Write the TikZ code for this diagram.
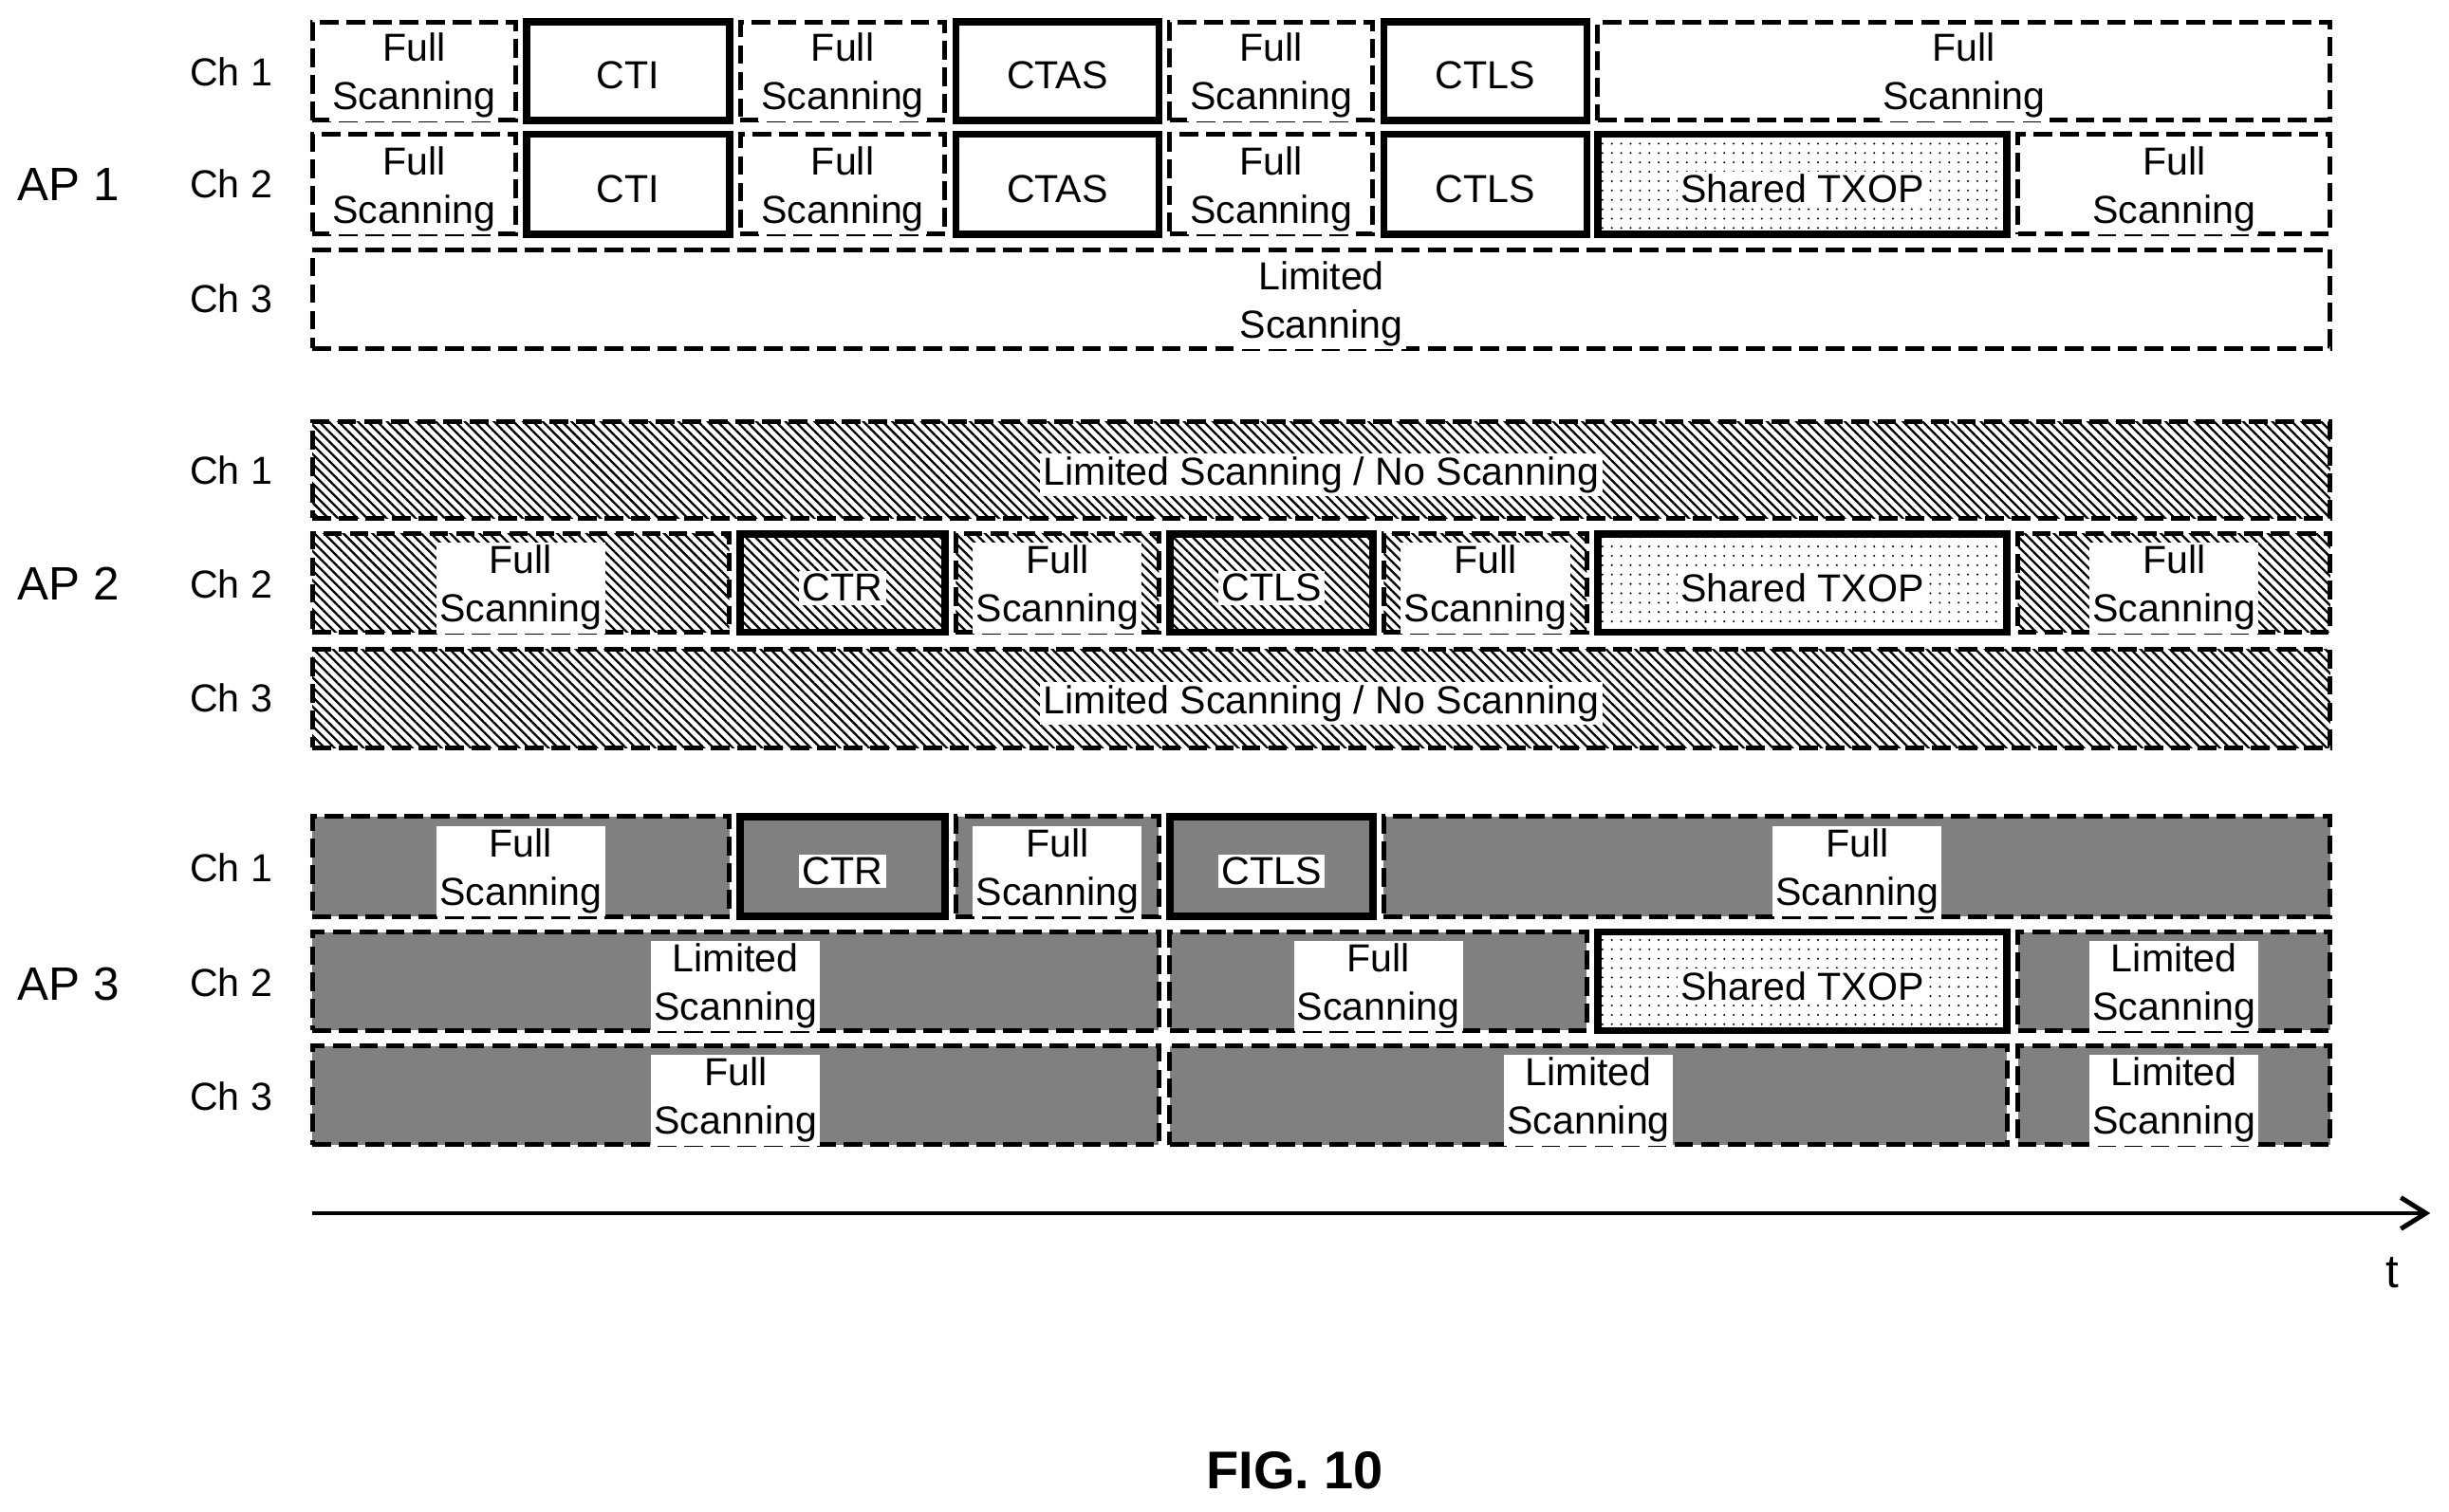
\documentclass[tikz,border=0pt]{standalone}
\usepackage{fontspec}
\setmainfont{Liberation Sans}
\usetikzlibrary{patterns.meta,arrows.meta}
\begin{document}
\begin{tikzpicture}[x=0.5pt,y=-0.5pt,
  font=\fontsize{12.5}{15.5}\selectfont,
  dsh/.style={draw,line width=1.5pt,dash pattern=on 6pt off 2.5pt},
  sol/.style={draw,line width=2.3pt},
  hat/.style={pattern={Lines[angle=-45,distance=2.2pt,line width=0.7pt]}},
  chk/.style={fill=black!50},
  dts/.style={pattern={Dots[distance=3pt,radius=0.35pt]}},
  lab/.style={fill=white,inner sep=1pt,align=center,yshift=-1.5pt}]
\useasboundingbox (0,0) rectangle (1568,968);
\newcommand\blk[7]{%
  \node[#5,inner sep=0pt,minimum width={(#2-#1)*0.5pt},minimum height={(#4-#3)*0.5pt}] (#7) at ({(#1+#2)/2},{(#3+#4)/2}) {};
  \node[lab] (#7t) at (#7.center) {#6};}
% labels
\node (ap1) at (44,118) {\fontsize{15}{18}\selectfont AP 1};
\node (ap2) at (44,374) {\fontsize{15}{18}\selectfont AP 2};
\node (ap3) at (44,630) {\fontsize{15}{18}\selectfont AP 3};
\node (c11) at (148,46) {Ch 1};\node (c12) at (148,118) {Ch 2};\node (c13) at (148,191) {Ch 3};
\node (c21) at (148,301) {Ch 1};\node (c22) at (148,374) {Ch 2};\node (c23) at (148,447) {Ch 3};
\node (c31) at (148,556) {Ch 1};\node (c32) at (148,629) {Ch 2};\node (c33) at (148,702) {Ch 3};
% AP1 Ch1
\blk{200}{330}{14}{77}{dsh}{Full\\Scanning}{a1}
\blk{337}{467}{14}{77}{sol}{CTI}{a2}
\blk{474}{605}{14}{77}{dsh}{Full\\Scanning}{a3}
\blk{612}{742}{14}{77}{sol}{CTAS}{a4}
\blk{749}{879}{14}{77}{dsh}{Full\\Scanning}{a5}
\blk{886}{1016}{14}{77}{sol}{CTLS}{a6}
\blk{1023}{1492}{14}{77}{dsh}{Full\\Scanning}{a7}
% AP1 Ch2
\blk{200}{330}{86}{150}{dsh}{Full\\Scanning}{b1}
\blk{337}{467}{86}{150}{sol}{CTI}{b2}
\blk{474}{605}{86}{150}{dsh}{Full\\Scanning}{b3}
\blk{612}{742}{86}{150}{sol}{CTAS}{b4}
\blk{749}{879}{86}{150}{dsh}{Full\\Scanning}{b5}
\blk{886}{1016}{86}{150}{sol}{CTLS}{b6}
\blk{1023}{1285}{86}{150}{sol,dts}{Shared TXOP}{b7}
\blk{1292}{1492}{86}{150}{dsh}{Full\\Scanning}{b8}
% AP1 Ch3
\blk{200}{1492}{160}{223}{dsh}{Limited\\Scanning}{c1}
% AP2
\blk{200}{1492}{270}{332}{dsh,hat}{Limited Scanning / No Scanning}{d1}
\blk{200}{467}{342}{405}{dsh,hat}{Full\\Scanning}{e1}
\blk{474}{605}{342}{405}{sol,hat}{CTR}{e2}
\blk{612}{742}{342}{405}{dsh,hat}{Full\\Scanning}{e3}
\blk{749}{879}{342}{405}{sol,hat}{CTLS}{e4}
\blk{886}{1016}{342}{405}{dsh,hat}{Full\\Scanning}{e5}
\blk{1023}{1285}{342}{405}{sol,dts}{Shared TXOP}{e6}
\blk{1292}{1492}{342}{405}{dsh,hat}{Full\\Scanning}{e7}
\blk{200}{1492}{416}{479}{dsh,hat}{Limited Scanning / No Scanning}{f1}
% AP3
\blk{200}{467}{523}{587}{dsh,chk}{Full\\Scanning}{g1}
\blk{474}{605}{523}{587}{sol,chk}{CTR}{g2}
\blk{612}{742}{523}{587}{dsh,chk}{Full\\Scanning}{g3}
\blk{749}{879}{523}{587}{sol,chk}{CTLS}{g4}
\blk{886}{1492}{523}{587}{dsh,chk}{Full\\Scanning}{g5}
\blk{200}{742}{597}{660}{dsh,chk}{Limited\\Scanning}{h1}
\blk{749}{1016}{597}{660}{dsh,chk}{Full\\Scanning}{h2}
\blk{1023}{1285}{597}{660}{sol,dts}{Shared TXOP}{h3}
\blk{1292}{1492}{597}{660}{dsh,chk}{Limited\\Scanning}{h4}
\blk{200}{742}{670}{733}{dsh,chk}{Full\\Scanning}{i1}
\blk{749}{1285}{670}{733}{dsh,chk}{Limited\\Scanning}{i2}
\blk{1292}{1492}{670}{733}{dsh,chk}{Limited\\Scanning}{i3}
% time axis
\coordinate (t0) at (200,777);
\coordinate (t1) at (1556,777);
\draw[line width=1.5pt,-{Straight Barb[length=8pt,width=10pt,line width=1.5pt]}] (t0) -- (t1);
\node (tl) at (1532,815) {\fontsize{15}{18}\selectfont t};
\node (fig) at (829,942) {\fontsize{17}{20}\selectfont\bfseries FIG. 10};
\end{tikzpicture}
\end{document}
